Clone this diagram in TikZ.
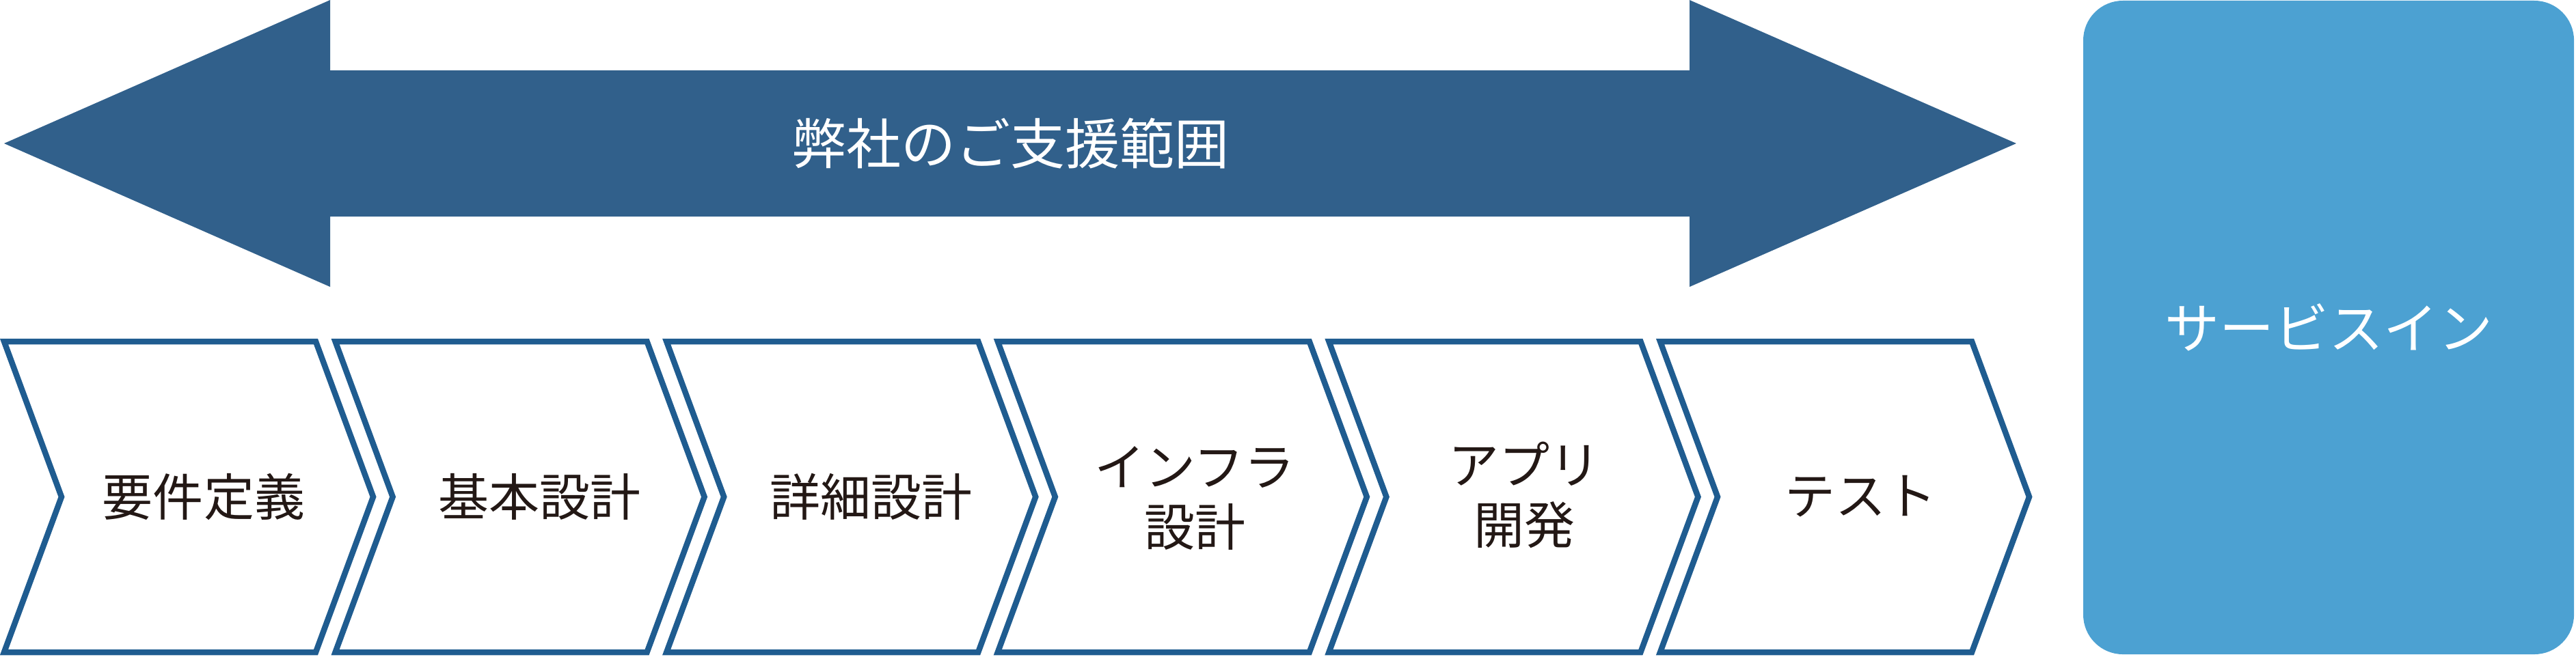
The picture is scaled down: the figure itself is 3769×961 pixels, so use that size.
\documentclass[tikz,border=0pt]{standalone}
\usepackage{fontspec}
\newfontfamily\jpfont{Noto Sans CJK JP}
\definecolor{arrowblue}{RGB}{49,96,139}
\definecolor{chevblue}{RGB}{31,92,144}
\definecolor{svcblue}{RGB}{76,161,210}
\definecolor{txtdark}{RGB}{35,24,21}
\begin{document}
\begin{tikzpicture}[x=0.2pt,y=-0.2pt,
  bigarrow/.style={fill=arrowblue,draw=none},
  chev/.style={draw=chevblue,line width=1.7pt,fill=white,line join=miter},
  lbl/.style={font=\jpfont\fontsize{14.8}{17.6}\selectfont,text=txtdark,align=center,inner sep=0pt},
  ttl/.style={font=\jpfont\fontsize{16}{19}\selectfont,text=white,inner sep=0pt},
  svcbox/.style={fill=svcblue,draw=none,rounded corners=11.6pt,minimum width=143.6pt,minimum height=191.4pt}]
\useasboundingbox (0,0) rectangle (3769,961);
% double arrow
\fill[bigarrow] (6,210) -- (483,0) -- (483,103) -- (2472,103) -- (2472,0) -- (2950,210)
  -- (2472,420) -- (2472,317) -- (483,317) -- (483,420) -- cycle;
\node[ttl] (title) at (1478,210) {弊社のご支援範囲};
% chevrons
\foreach \i in {0,...,5}{
  \pgfmathsetmacro\xa{6+484.6*\i}
  \draw[chev] (\xa,500) -- ++(456,0) -- ++(84,227.5) -- ++(-84,227.5) -- ++(-456,0) -- ++(84,-227.5) -- cycle;
}
\node[lbl] (c1) at (298,727) {要件定義};
\node[lbl] (c2) at (789,727) {基本設計};
\node[lbl] (c3) at (1274,727) {詳細設計};
\node[lbl] (c4) at (1748,729) {インフラ\\設計};
\node[lbl] (c5) at (2230,725) {アプリ\\開発};
\node[lbl] (c6) at (2722,727) {テスト};
% service in
\node[svcbox,ttl] (svc) at (3407,479.5) {サービスイン};
\end{tikzpicture}
\end{document}
